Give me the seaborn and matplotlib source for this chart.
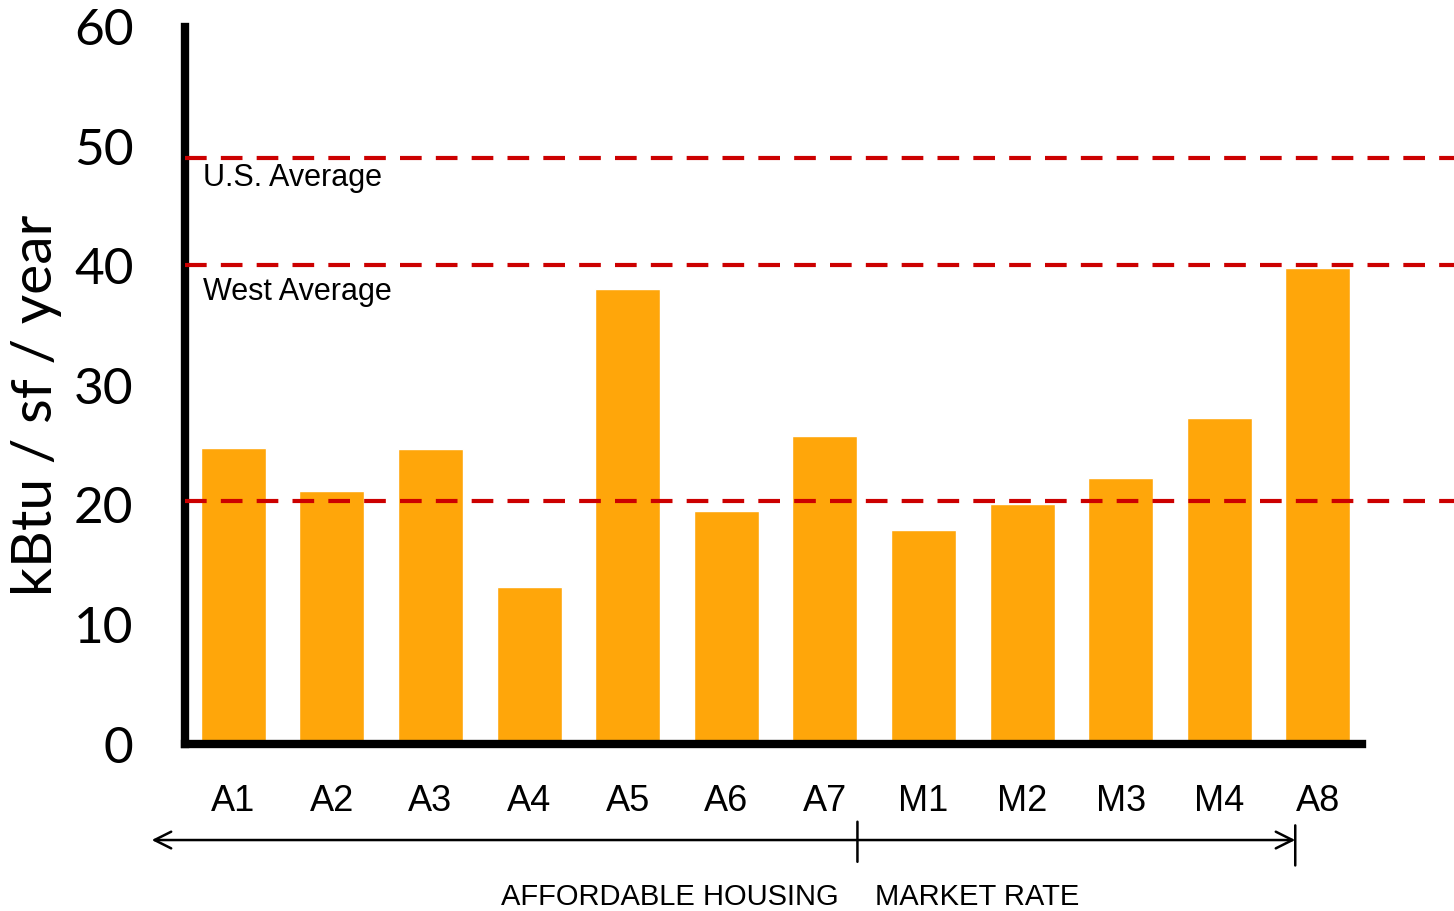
import matplotlib
matplotlib.use('Agg')
import matplotlib.pyplot as plt
import seaborn as sns
import pandas as pd

buildings = ['A1', 'A2', 'A3', 'A4', 'A5', 'A6', 'A7', 'M1', 'M2', 'M3', 'M4', 'A8']
eui = [24.8, 21.2, 24.7, 13.1, 38.1, 19.5, 25.8, 17.9, 20.1, 22.3, 27.3, 39.8]
ref_levels = [49.0, 40.1, 20.3]
ref_names = ['U.S. Average', 'West Average', '']
ytick_vals = [0, 10, 20, 30, 40, 50, 60]

df = pd.DataFrame({'building': buildings, 'eui': eui})

sns.set_style('white')
plt.rcParams['font.family'] = ['Liberation Sans', 'DejaVu Sans']
plt.rcParams['text.color'] = 'black'
plt.rcParams['axes.labelcolor'] = 'black'
plt.rcParams['xtick.color'] = 'black'
plt.rcParams['ytick.color'] = 'black'

fig = plt.figure(figsize=(14.54, 9.11), dpi=100)
ax = fig.add_axes([0.1272, 0.1833, 0.8728, 0.7871])

sns.barplot(data=df, x='building', y='eui', color='#FFA60A', width=0.66,
            saturation=1, ax=ax)

ax.set_ylim(0, 60)
ax.set_xlim(-0.49, 12.38)
ax.set_yticks(ytick_vals)
ax.set_yticklabels([str(v) for v in ytick_vals], fontsize=37, family='Lato')
ax.tick_params(axis='y', direction='out', length=13, width=6, pad=24, color='black')
ax.tick_params(axis='x', length=0, pad=29, labelsize=26)

for s in ['top', 'right']:
    ax.spines[s].set_visible(False)
ax.spines['left'].set_linewidth(6)
ax.spines['bottom'].set_linewidth(6)
ax.spines['left'].set_color('black')
ax.spines['bottom'].set_color('black')
ax.spines['left'].set_bounds(0, 60)
ax.spines['bottom'].set_bounds(-0.49, 11.45)

ax.set_xlabel('')
ax.set_ylabel('kBtu / sf / year', fontsize=41, family='Lato')
ax.yaxis.set_label_coords(-0.097, 0.473)

# reference lines
for lvl in ref_levels:
    ax.axhline(lvl, color='#CC0000', lw=3, linestyle=(0, (5.2, 3.4)), zorder=3)
ax.text(-0.31, 47.4, ref_names[0], fontsize=22, va='center', ha='left')
ax.text(-0.31, 37.8, ref_names[1], fontsize=22, va='center', ha='left')

# group arrows below the axis
yc = ('data', 'figure fraction')
ax.annotate('', xy=(-0.827, 0.0779), xytext=(10.77, 0.0779), xycoords=yc, textcoords=yc,
            arrowprops=dict(arrowstyle='<->', lw=1.8, color='black',
                            mutation_scale=30, shrinkA=0, shrinkB=0),
            annotation_clip=False)
for xv, y0, y1 in [(6.33, 0.054, 0.098), (10.77, 0.050, 0.094)]:
    ax.annotate('', xy=(xv, y0), xytext=(xv, y1), xycoords=yc, textcoords=yc,
                arrowprops=dict(arrowstyle='-', lw=1.8, color='black',
                                shrinkA=0, shrinkB=0),
                annotation_clip=False)

ax.annotate('AFFORDABLE HOUSING', xy=(4.43, 0.015), xycoords=yc, ha='center',
            va='center', fontsize=21, annotation_clip=False)
ax.annotate('MARKET RATE', xy=(7.54, 0.015), xycoords=yc, ha='center',
            va='center', fontsize=21, annotation_clip=False)

fig.savefig('out.png', dpi=100)
